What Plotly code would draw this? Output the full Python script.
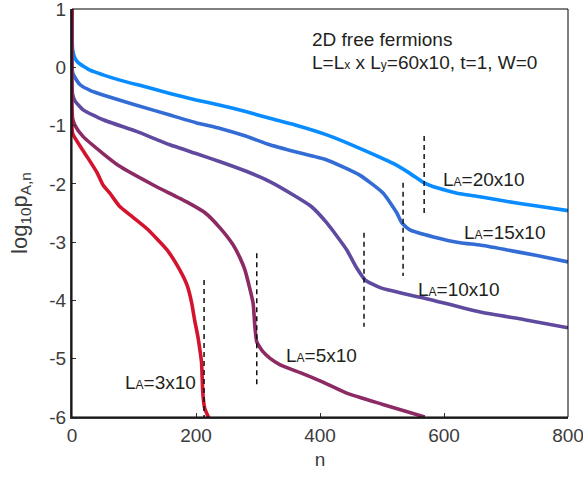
import plotly.graph_objects as go

# ---- data ----
n_20 = [0, 1, 5, 10, 29, 50, 77, 120, 158, 200, 239, 280, 319, 360, 411, 464, 518, 545, 566, 583, 626, 658, 700, 750, 800]
y_20 = [1.5, 0.30, 0.15, 0.08, -0.05, -0.13, -0.22, -0.34, -0.45, -0.56, -0.65, -0.76, -0.875, -0.99, -1.16, -1.39, -1.65, -1.82, -1.97, -2.05, -2.17, -2.22, -2.30, -2.38, -2.46]

n_15 = [0, 1, 5, 13, 30, 50, 104, 158, 200, 239, 280, 319, 360, 411, 464, 502, 524, 532, 545, 583, 626, 658, 700, 750, 800]
y_15 = [1.5, -0.09, -0.18, -0.30, -0.40, -0.475, -0.65, -0.82, -0.95, -1.05, -1.18, -1.33, -1.45, -1.59, -1.85, -2.16, -2.50, -2.67, -2.79, -2.91, -3.01, -3.05, -3.13, -3.23, -3.34]

n_10 = [0, 1, 5, 18, 50, 104, 158, 200, 239, 280, 319, 357, 385, 411, 443, 459, 473, 497, 518, 550, 572, 658, 730, 800]
y_10 = [1.5, -0.47, -0.58, -0.73, -0.90, -1.10, -1.33, -1.48, -1.62, -1.78, -1.96, -2.19, -2.38, -2.67, -3.13, -3.44, -3.65, -3.78, -3.84, -3.92, -3.97, -4.20, -4.33, -4.47]

n_5 = [0, 1, 5, 18, 50, 77, 131, 185, 215, 239, 260, 271, 279, 292, 295, 298, 308, 319, 335, 368, 400, 443, 500, 569]
y_5 = [1.5, -0.88, -1.00, -1.19, -1.48, -1.70, -2.02, -2.31, -2.50, -2.76, -3.05, -3.27, -3.48, -4.04, -4.45, -4.71, -4.88, -4.99, -5.10, -5.24, -5.38, -5.59, -5.78, -6.00]

n_3 = [0, 1, 10, 24, 40, 50, 61, 77, 98, 121, 153, 174, 186, 193, 198, 203, 207, 209, 211, 214, 217, 222]
y_3 = [1.5, -1.13, -1.30, -1.53, -1.80, -2.02, -2.16, -2.39, -2.57, -2.77, -3.13, -3.48, -3.75, -4.04, -4.35, -4.62, -4.90, -5.07, -5.59, -5.85, -5.93, -6.05]

dash_n = [213, 298, 471, 534, 568]
dash_top = [-3.65, -3.19, -2.84, -1.98, -1.18]
dash_bot = [-6.0, -5.5, -4.45, -3.58, -2.53]

x_ticks = [0, 200, 400, 600, 800]
y_ticks = [-6, -5, -4, -3, -2, -1, 0, 1]

series = [
    ("20x10", n_20, y_20, "rgb(8,140,255)"),
    ("15x10", n_15, y_15, "rgb(52,108,214)"),
    ("10x10", n_10, y_10, "rgb(96,74,160)"),
    ("5x10", n_5, y_5, "rgb(140,42,100)"),
    ("3x10", n_3, y_3, "rgb(212,20,46)"),
]

FONT = "Liberation Sans, Arial, sans-serif"
fig = go.Figure()
for name, xs, ys, col in series:
    fig.add_trace(go.Scatter(x=xs, y=ys, mode="lines", name=name,
                             line=dict(color=col, width=3.6, shape="spline", smoothing=0.5),
                             showlegend=False))

dx, dy = [], []
for nn, t, b in zip(dash_n, dash_top, dash_bot):
    dx += [nn, nn, None]
    dy += [t, b, None]
fig.add_trace(go.Scatter(x=dx, y=dy, mode="lines", showlegend=False,
                         line=dict(color="#111111", width=1.5, dash="5px,4px")))

small = lambda s: f"<span style='font-size:12px'>{s}</span>"
ann_color = "#231f20"
labels = [
    (384, 0.485, "2D free fermions"),
    (384, 0.09, "L=L" + small("x") + " x L" + small("y") + "=60x10, t=1, W=0"),
    (595, -1.93, "L" + small("A") + "=20x10"),
    (629, -2.84, "L" + small("A") + "=15x10"),
    (555, -3.82, "L" + small("A") + "=10x10"),
    (342, -4.95, "L" + small("A") + "=5x10"),
    (82, -5.40, "L" + small("A") + "=3x10"),
]
for x, y, t in labels:
    fig.add_annotation(x=x, y=y, text=t, showarrow=False, xanchor="left", yanchor="middle",
                       font=dict(family=FONT, size=19, color=ann_color))

fig.add_shape(type="rect", xref="paper", yref="paper", x0=0, y0=0, x1=1, y1=1,
              line=dict(color="black", width=1), layer="above")

axis_common = dict(showgrid=False, zeroline=False, showline=True, linecolor="#333333", linewidth=2,
                   ticks="inside", ticklen=4, tickwidth=1, tickcolor="#333333",
                   ticklabeloverflow="allow", automargin=False,
                   tickfont=dict(family=FONT, size=19, color="#3c3c3c"))
fig.update_xaxes(range=[0, 800], tickvals=x_ticks, ticktext=[str(v) for v in x_ticks],
                 title=dict(text="n", font=dict(family=FONT, size=19, color="#3c3c3c"), standoff=8),
                 **axis_common)
fig.update_yaxes(range=[-6, 1], tickvals=y_ticks, ticktext=[str(v) for v in y_ticks],
                 title=dict(text="log<sub>10</sub>p<sub>A,n</sub>", font=dict(family=FONT, size=22, color="#3c3c3c"), standoff=16),
                 **axis_common)
fig.update_layout(width=583, height=479, margin=dict(l=72, r=15, t=9, b=62),
                  plot_bgcolor="white", paper_bgcolor="white")
fig.write_html("out.html", config={"displayModeBar": False},
               post_script="document.body.style.margin='0';")
